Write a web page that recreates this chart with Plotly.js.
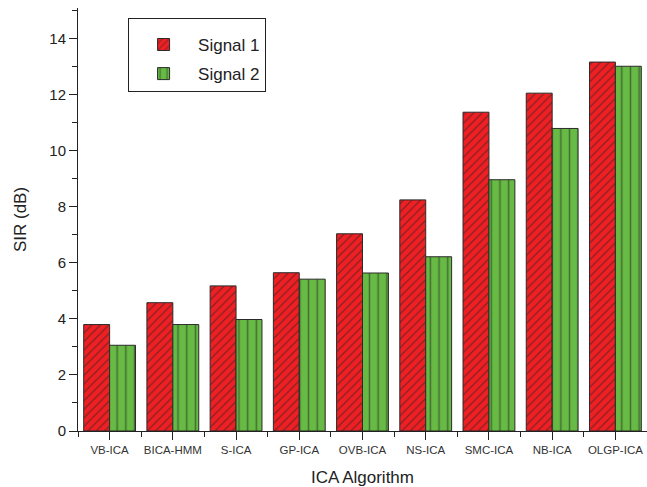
<!DOCTYPE html>
<html>
<head>
<meta charset="utf-8">
<script src="https://cdn.plot.ly/plotly-3.0.1.min.js"></script>
<style>html,body{margin:0;padding:0;background:#fff;}#chart{width:647px;height:487px;}</style>
</head>
<body>
<div id="chart"></div>
<script>
const categories = ["VB-ICA","BICA-HMM","S-ICA","GP-ICA","OVB-ICA","NS-ICA","SMC-ICA","NB-ICA","OLGP-ICA"];
const signal1 = [3.8, 4.58, 5.18, 5.65, 7.04, 8.25, 11.38, 12.06, 13.17];
const signal2 = [3.06, 3.8, 3.98, 5.42, 5.64, 6.22, 8.97, 10.8, 13.02];
const seriesNames = ["Signal 1", "Signal 2"];

const xIdx = categories.map((_, i) => i);
const font = "Liberation Sans, Arial, sans-serif";

const traces = [
  {
    type: "bar", name: seriesNames[0], x: xIdx, y: signal1, legendgroup: "a",
    marker: {
      color: "#EE2024",
      line: {color: "#2a2a2a", width: 1},
      pattern: {shape: "/", fgcolor: "#222", bgcolor: "#EE2024", size: 6, solidity: 0.22, fillmode: "overlay"}
    }
  },
  {
    type: "bar", name: seriesNames[1], x: xIdx, y: signal2, legendgroup: "b",
    marker: {
      color: "#67BB45",
      line: {color: "#2a2a2a", width: 1},
      pattern: {shape: "|", fgcolor: "#222", bgcolor: "#67BB45", size: 8.7, solidity: 0.18, fillmode: "overlay"}
    }
  }
];

const layout = {
  width: 647, height: 487,
  margin: {l: 78, r: 0, t: 8, b: 56},
  paper_bgcolor: "#fff", plot_bgcolor: "#fff",
  barmode: "group", bargap: 0.18, bargroupgap: 0,
  font: {family: font, color: "#222"},
  showlegend: true,
  legend: {
    x: 0.088, y: 0.976, xanchor: "left", yanchor: "top",
    bordercolor: "#222", borderwidth: 1, bgcolor: "#fff",
    font: {size: 17, family: font, color: "#222"},
    itemwidth: 59,
    traceorder: "grouped", tracegroupgap: 4,
    title: {text: " ", font: {size: 6}}
  },
  xaxis: {
    range: [-0.5, 8.5],
    tickmode: "array", tickvals: xIdx, ticktext: categories,
    tickfont: {size: 11.5, family: font, color: "#333"},
    ticks: "outside", ticklen: 8, tickcolor: "#222", tickwidth: 1,
    minor: {tickmode: "linear", tick0: 0.5, dtick: 1, ticks: "outside", ticklen: 5, tickcolor: "#222", tickwidth: 1, showgrid: false},
    showline: true, linecolor: "#222", linewidth: 1,
    showgrid: false, zeroline: false,
    title: {text: "ICA Algorithm", font: {size: 17, family: font, color: "#222"}, standoff: 16},
    fixedrange: true
  },
  yaxis: {
    range: [0, 15.1],
    tickmode: "linear", tick0: 0, dtick: 2,
    tickfont: {size: 15, family: font, color: "#222"},
    ticks: "outside", ticklen: 8, tickcolor: "#222", tickwidth: 1,
    minor: {tickmode: "linear", tick0: 1, dtick: 1, ticks: "outside", ticklen: 5, tickcolor: "#222", tickwidth: 1, showgrid: false},
    showline: true, linecolor: "#222", linewidth: 1,
    showgrid: false, zeroline: false,
    title: {text: "SIR (dB)", font: {size: 17, family: font, color: "#222"}, standoff: 18},
    fixedrange: true
  }
};

Plotly.newPlot("chart", traces, layout, {displayModeBar: false, staticPlot: true});
</script>
</body>
</html>
